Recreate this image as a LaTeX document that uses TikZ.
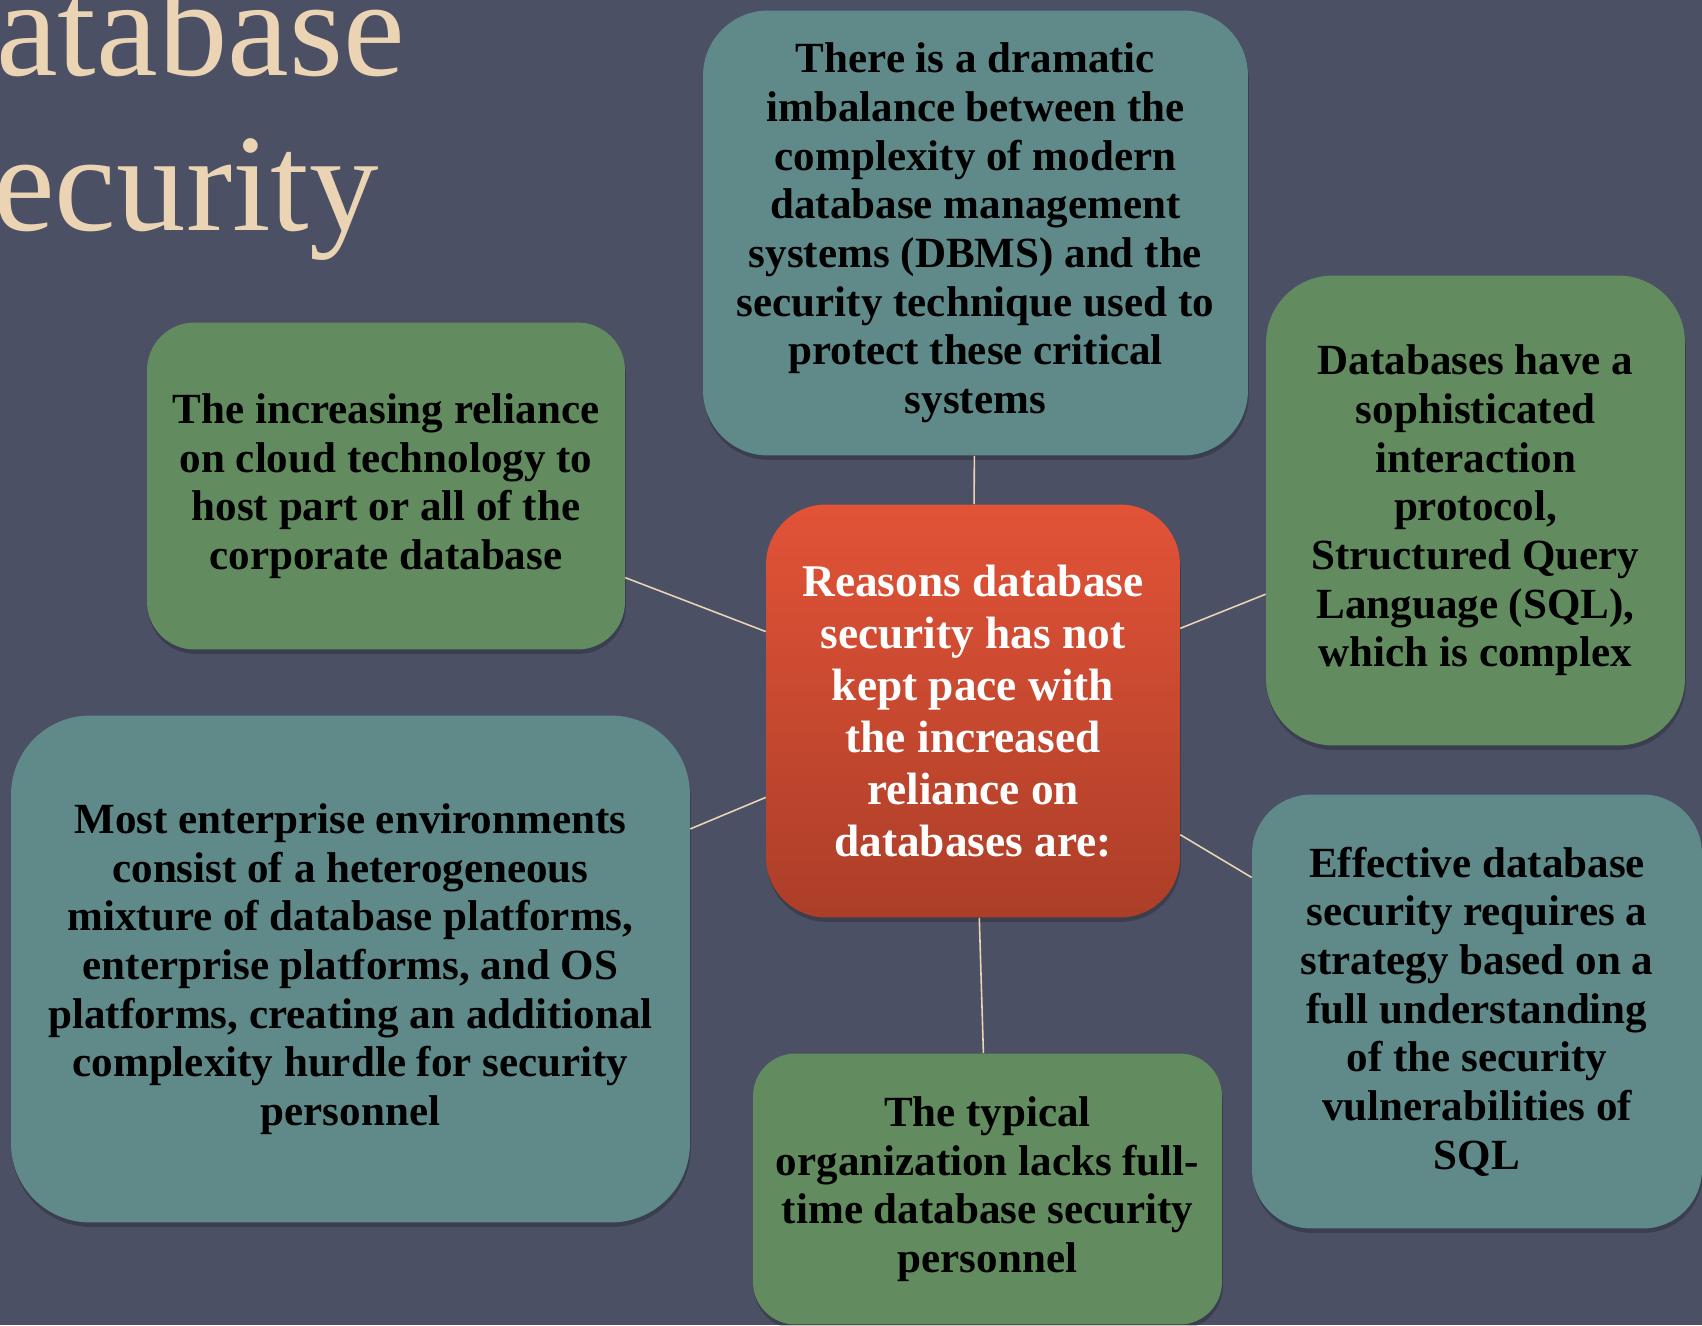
\documentclass[tikz,border=0pt]{standalone}
\usepackage{fontspec}
\setmainfont{Liberation Serif}
\usepackage{tikz}
\usetikzlibrary{shadows}

\definecolor{slate}{RGB}{75,80,100}
\definecolor{sand}{RGB}{234,212,180}
\definecolor{tealbox}{RGB}{95,138,137}
\definecolor{greenbox}{RGB}{98,140,96}
\definecolor{redtop}{RGB}{226,83,55}
\definecolor{redbot}{RGB}{172,62,40}

\tikzset{
    bubble/.style={rectangle, inner sep=0pt, align=center, text=black,
        font=\fontsize{24.5}{27.7}\selectfont\bfseries,
        drop shadow={shadow xshift=0.5pt, shadow yshift=-2.5pt, opacity=0.22, fill=black}},
    tealbub/.style={bubble, fill=tealbox},
    greenbub/.style={bubble, fill=greenbox},
    link/.style={sand, line width=0.9pt},
}

\begin{document}
\begin{tikzpicture}[x=0.02cm, y=-0.02cm]
        \useasboundingbox (0,0) rectangle (1702,1325);
        \fill[slate] (0,0) rectangle (1702,1325);

        % title, cut off at the left edge
        \node[anchor=base west, inner sep=0pt, sand, font=\fontsize{79}{94}\selectfont] (title1) at (-4,75) {atabase};
        \node[anchor=base west, inner sep=0pt, sand, font=\fontsize{79}{94}\selectfont] (title2) at (-7,230) {ecurity};

        % center
        \node[bubble, rounded corners=1.2cm, minimum width=8.28cm, minimum height=8.26cm,
            top color=redtop, bottom color=redbot, text=white,
            font=\fontsize{25.8}{29.6}\selectfont\bfseries] (reasons) at (973,711)
            {Reasons database\\security has not\\kept pace with\\the increased\\reliance on\\databases are:};

        % outer boxes
        \node[tealbub, rounded corners=1.3cm, minimum width=10.9cm, minimum height=8.9cm] (imbalance) at (975.5,233)
            {There is a dramatic\\imbalance between the\\complexity of modern\\database management\\systems (DBMS) and the\\security technique used to\\protect these critical\\systems};
        \node[greenbub, rounded corners=0.95cm, minimum width=9.56cm, minimum height=6.54cm] (cloud) at (386,486)
            {The increasing reliance\\on cloud technology to\\host part or all of the\\corporate database};
        \node[greenbub, rounded corners=1.34cm, minimum width=8.38cm, minimum height=9.4cm] (sql) at (1475.5,510.5)
            {Databases have a\\sophisticated\\interaction\\protocol,\\Structured Query\\Language (SQL),\\which is complex};
        \node[tealbub, rounded corners=1.58cm, minimum width=13.58cm, minimum height=10.14cm] (platforms) at (350.5,969)
            {Most enterprise environments\\consist of a heterogeneous\\mixture of database platforms,\\enterprise platforms, and OS\\platforms, creating an additional\\complexity hurdle for security\\personnel};
        \node[greenbub, rounded corners=0.85cm, minimum width=9.38cm, minimum height=5.42cm] (staff) at (987.5,1189)
            {The typical\\organization lacks full-\\time database security\\personnel};
        \node[tealbub, rounded corners=1.18cm, minimum width=9cm, minimum height=8.68cm] (strategy) at (1477,1011.5)
            {Effective database\\security requires a\\strategy based on a\\full understanding\\of the security\\vulnerabilities of\\SQL};

        % spokes
        \draw[link] (reasons) -- (imbalance);
        \draw[link] (reasons) -- (cloud);
        \draw[link] (reasons) -- (sql);
        \draw[link] (reasons) -- (platforms);
        \draw[link] (reasons) -- (staff);
        \draw[link] (reasons) -- (strategy);
    \end{tikzpicture}
\end{document}
